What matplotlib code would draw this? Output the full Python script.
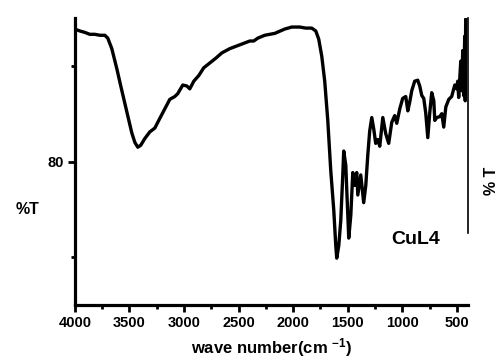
import matplotlib
matplotlib.use("Agg")
import matplotlib.pyplot as plt
from matplotlib.ticker import MultipleLocator

plt.rcParams["font.family"] = ["Liberation Sans", "DejaVu Sans"]
plt.rcParams["font.weight"] = "bold"
plt.rcParams["mathtext.fontset"] = "custom"
plt.rcParams["mathtext.rm"] = "Liberation Sans:bold"
plt.rcParams["mathtext.bf"] = "Liberation Sans:bold"
plt.rcParams["mathtext.default"] = "bf"

# IR spectrum of CuL4: wavenumber (cm^-1) and transmittance (%T)
wavenumber = [
    4000, 3954, 3908, 3863, 3817, 3771, 3725, 3698, 3661, 3615, 3579, 3542,
    3505, 3478, 3450, 3423, 3396, 3359, 3313, 3267, 3222, 3176, 3130, 3084,
    3057, 3011, 2974, 2947, 2910, 2864, 2819, 2764, 2709, 2654, 2581, 2489,
    2397, 2361, 2324, 2260, 2168, 2077, 2013, 1940, 1885, 1830, 1793, 1766,
    1738, 1711, 1683, 1656, 1637, 1628, 1610, 1601, 1582, 1564, 1546, 1537,
    1518, 1509, 1491, 1472, 1454, 1436, 1418, 1408, 1381, 1354, 1335, 1317,
    1299, 1280, 1262, 1244, 1225, 1207, 1179, 1152, 1125, 1097, 1070, 1051,
    1024, 997, 969, 950, 932, 914, 887, 859, 841, 822, 804, 786, 767, 749,
    731, 712, 703, 685, 657, 639, 621, 602, 575, 548, 520, 502, 493, 484,
    465, 456, 447, 438, 429, 424, 420,
]
transmittance = [
    93.85, 93.65, 93.5, 93.3, 93.3, 93.2, 93.2, 92.9, 91.8, 89.7, 87.9, 86.1,
    84.3, 83.0, 82.0, 81.5, 81.7, 82.4, 83.1, 83.5, 84.5, 85.5, 86.5, 86.8,
    87.1, 88.0, 87.9, 87.6, 88.4, 89.0, 89.8, 90.3, 90.8, 91.35, 91.8, 92.2,
    92.6, 92.6, 92.9, 93.2, 93.4, 93.85, 94.06, 94.06, 93.95, 93.95, 93.65, 92.8,
    91.0, 88.4, 84.3, 79.1, 76.25, 74.9, 71.25, 69.9, 71.25, 73.85, 78.5, 81.1,
    79.6, 77.0, 72.0, 74.4, 78.85, 77.5, 78.85, 76.5, 78.6, 75.7, 77.5, 80.6,
    83.2, 84.6, 83.4, 81.9, 82.3, 81.6, 84.6, 82.9, 81.9, 84.1, 84.8, 84.0,
    85.5, 86.6, 86.8, 85.3, 86.25, 87.4, 88.4, 88.5, 87.9, 86.9, 86.6, 85.1, 82.5, 85.1,
    87.2, 86.35, 84.3, 84.6, 84.7, 85.0, 83.6, 85.7, 86.5, 86.8, 88.0, 87.6, 88.4, 86.7,
    90.5, 87.4, 91.6, 86.9, 93.1, 86.35, 94.9,
]

x_ticks = [4000, 3500, 3000, 2500, 2000, 1500, 1000, 500]
y_ticks = [80]

fig = plt.figure(figsize=(5.02, 3.61), dpi=100)
ax = fig.add_axes([0.149, 0.155, 0.783, 0.795])

ax.plot(wavenumber, transmittance, color="black", lw=2.4,
        solid_joinstyle="round", solid_capstyle="round")

ax.set_xlim(4000, 400)
ax.set_ylim(65, 95)
ax.set_xticks(x_ticks)
ax.set_xticklabels([str(v) for v in x_ticks])
ax.xaxis.set_minor_locator(MultipleLocator(250))
ax.set_yticks(y_ticks)
ax.set_yticklabels([str(v) for v in y_ticks])
ax.yaxis.set_minor_locator(MultipleLocator(10))

ax.tick_params(axis="both", which="major", direction="out", length=5,
               width=2, labelsize=10.5, pad=3)
ax.tick_params(axis="both", which="minor", direction="out", length=3, width=2)

for side in ("left", "bottom"):
    ax.spines[side].set_linewidth(2.3)
ax.spines["top"].set_visible(False)
ax.spines["right"].set_linewidth(1.2)
ax.spines["right"].set_bounds(72.5, 95)

ax.set_xlabel("wave number(cm $^{-1}$)", fontsize=12, fontweight="bold",
              labelpad=4)
fig.text(0.054, 0.421, "%T", fontsize=11.5, fontweight="bold",
         ha="center", va="center")
fig.text(0.980, 0.50, "% T", fontsize=11.5, fontweight="bold",
         ha="center", va="center", rotation=90)
ax.text(877, 71.8, "CuL4", fontsize=14, fontweight="bold",
        ha="center", va="center")

fig.savefig("out.png", dpi=100)
